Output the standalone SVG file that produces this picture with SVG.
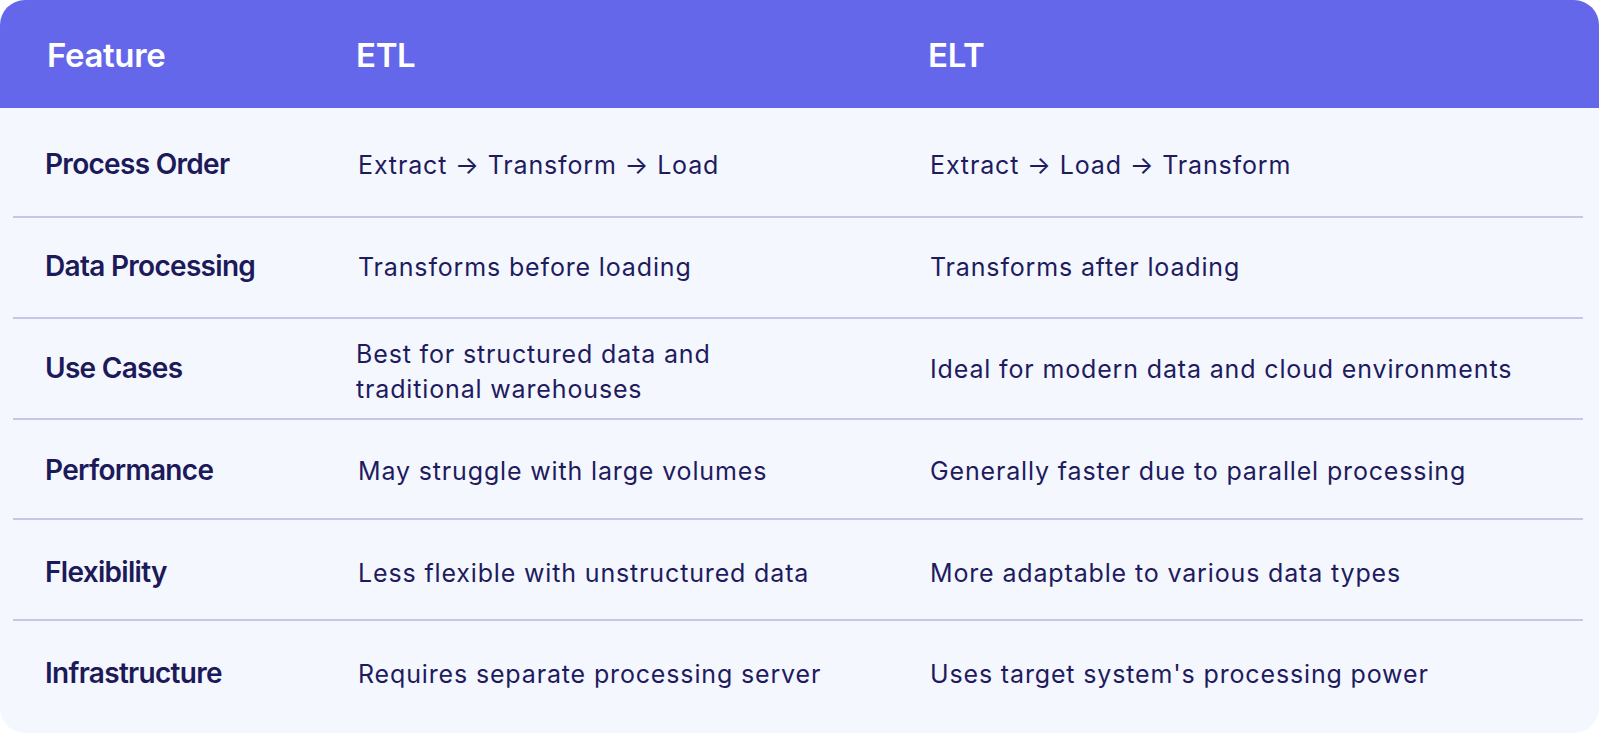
<svg xmlns="http://www.w3.org/2000/svg" width="1600" height="733" viewBox="0 0 1600 733">
<defs>
<clipPath id="card"><rect x="0" y="0" width="1599" height="733" rx="25" ry="25"/></clipPath>
</defs>
<style>
.h{font-family:Inter,"Noto Sans","Liberation Sans",sans-serif;font-size:33px;font-weight:600;fill:#ffffff;letter-spacing:-0.35px}
.l{font-family:Inter,"Noto Sans","Liberation Sans",sans-serif;font-size:28px;font-weight:600;fill:#1c1a59;letter-spacing:-0.7px}
.c{font-family:Inter,"Noto Sans","Liberation Sans",sans-serif;font-size:25px;font-weight:400;fill:#1e1c5e;letter-spacing:0.85px}
.sep{stroke:#c8c6e8;stroke-width:2}
</style>
<rect width="1600" height="733" fill="#ffffff"/>
<g id="table" clip-path="url(#card)">
<rect x="0" y="0" width="1599" height="733" fill="#f5f7ff"/>
<rect x="0" y="0" width="1599" height="108" fill="#6467ea"/>
</g>
<g id="header">
<text class="h" x="47" y="67">Feature</text>
<text class="h" x="356" y="67">ETL</text>
<text class="h" x="928" y="67">ELT</text>
</g>
<g id="separators">
<line class="sep" x1="13" y1="217" x2="1583" y2="217"/>
<line class="sep" x1="13" y1="318" x2="1583" y2="318"/>
<line class="sep" x1="13" y1="419" x2="1583" y2="419"/>
<line class="sep" x1="13" y1="519" x2="1583" y2="519"/>
<line class="sep" x1="13" y1="620" x2="1583" y2="620"/>
</g>
<g id="row-process-order">
<text class="l" x="45" y="174">Process Order</text>
<text class="c" x="358" y="174">Extract → Transform → Load</text>
<text class="c" x="930" y="174">Extract → Load → Transform</text>
</g>
<g id="row-data-processing">
<text class="l" x="45" y="276">Data Processing</text>
<text class="c" x="358" y="276">Transforms before loading</text>
<text class="c" x="930" y="276">Transforms after loading</text>
</g>
<g id="row-use-cases">
<text class="l" x="45" y="378">Use Cases</text>
<text class="c" x="356" y="363">Best for structured data and</text>
<text class="c" x="356" y="398">traditional warehouses</text>
<text class="c" x="930" y="378">Ideal for modern data and cloud environments</text>
</g>
<g id="row-performance">
<text class="l" x="45" y="480">Performance</text>
<text class="c" x="358" y="480">May struggle with large volumes</text>
<text class="c" x="930" y="480">Generally faster due to parallel processing</text>
</g>
<g id="row-flexibility">
<text class="l" x="45" y="582">Flexibility</text>
<text class="c" x="358" y="582">Less flexible with unstructured data</text>
<text class="c" x="930" y="582">More adaptable to various data types</text>
</g>
<g id="row-infrastructure">
<text class="l" x="45" y="683">Infrastructure</text>
<text class="c" x="358" y="683">Requires separate processing server</text>
<text class="c" x="930" y="683">Uses target system's processing power</text>
</g>
</svg>
